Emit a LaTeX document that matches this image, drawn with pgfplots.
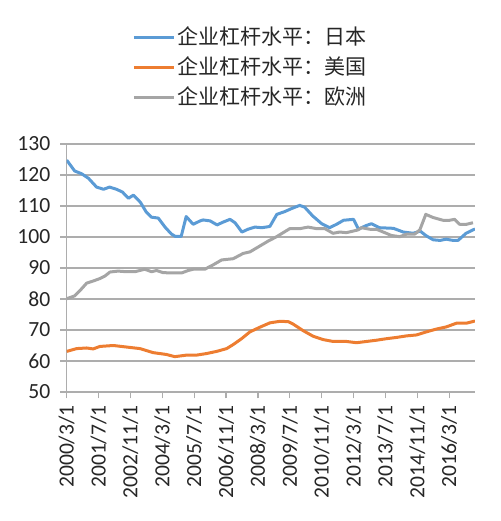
\documentclass[border=0pt]{standalone}
\usepackage{pgfplots}
\pgfplotsset{compat=1.18}
\usepackage{fontspec}
\setmainfont{Carlito}
\newfontfamily\cjk{Noto Sans CJK SC}

\definecolor{jpblue}{HTML}{5B9BD5}
\definecolor{usorange}{HTML}{ED7D31}
\definecolor{eugray}{HTML}{A5A5A5}
\definecolor{gridgray}{HTML}{ADADAD}
\definecolor{txt}{HTML}{262626}

\begin{document}
\begin{tikzpicture}
\begin{axis}[
  name=ax,
  scale only axis,
  width=204.15pt, height=124pt,
  xmin=0, xmax=205, ymin=50, ymax=130,
  ytick={50,60,...,130},
  xtick={0,16,...,192},
  xticklabels={2000/3/1,2001/7/1,2002/11/1,2004/3/1,2005/7/1,2006/11/1,2008/3/1,2009/7/1,2010/11/1,2012/3/1,2013/7/1,2014/11/1,2016/3/1},
  x tick label style={rotate=90, anchor=east},
  y tick label style={xshift=-1.5pt},
  axis x line*=bottom, axis y line*=left,
  axis line style={gridgray, line width=0.6pt},
  tick style={gridgray, line width=0.6pt},
  tick align=outside, major tick length=3.2pt,
  ymajorgrids, grid style={gridgray, line width=0.6pt},
  ticklabel style={font=\fontsize{10.8}{12}\selectfont, text=txt},
  /pgf/number format/assume math mode=true,
  legend style={draw=none, fill=none, inner sep=0pt,
    at={(0.16,1)}, anchor=south west, yshift=17pt,
    font=\fontsize{10.5}{12}\selectfont\cjk, text=txt,
    row sep=2.5pt, nodes={inner sep=1pt}},
  legend cell align=left,
  legend image code/.code={\draw[#1, line width=1.5pt] (0pt,0pt) -- (20pt,0pt);},
  every axis plot/.append style={line width=1.5pt, line join=round},
]
\addplot[jpblue] coordinates {
(0,124.8) (4,121.3) (7.5,120.4) (11,118.9) (15,116.1) (18.5,115.4) (21.5,116.1) (25,115.4)
(28,114.5) (31,112.5) (33.5,113.5) (37,111.2) (40,108) (42.5,106.4) (46,106.1) (49.5,103.1)
(52.5,101) (54.5,100.2) (57.5,100.2) (60,106.6) (63.5,104.1) (67,105.2) (68.5,105.5) (72,105.2)
(75.5,103.9) (78.5,104.8) (82,105.7) (84.5,104.6) (88,101.6) (91,102.5) (94.5,103.2) (98,103.0)
(102,103.4) (105.5,107.3) (109.5,108.2) (113,109.2) (117,110.2) (119.5,109.6) (123.5,106.8)
(128,104.3) (132,103.0) (135.5,104.1) (139,105.4) (144,105.7) (146.5,102.5) (150,103.6)
(153,104.3) (157,103.0) (164,102.8) (169,101.6) (174,101.2) (177.5,101.9) (180.5,100.4)
(184,99.1) (187.5,98.9) (190.5,99.3) (194,98.9) (196.5,98.9) (200.5,101.2) (205,102.6)
};
\addlegendentry{企业杠杆水平：日本}
\addplot[usorange] coordinates {
(0,63.1) (5,64) (10,64.2) (13.3,63.9) (16.7,64.7) (23.4,65) (30.1,64.5) (36.8,64)
(43.4,62.7) (50.1,62.1) (54.3,61.4) (60.2,61.9) (65.2,61.9) (70.2,62.4) (75.3,63.1) (80.3,64)
(83.6,65.3) (87.8,67.2) (92,69.4) (97,70.9) (102,72.3) (107,72.8) (111.2,72.7) (113.7,71.9)
(118.7,69.8) (123.7,68.0) (128.8,66.9) (133.8,66.3) (140.5,66.3) (145.5,65.9) (150.5,66.3)
(155.5,66.7) (160.6,67.2) (165.6,67.6) (170.6,68.1) (175.6,68.4) (180.6,69.4) (185.6,70.3)
(190.6,71) (195.7,72.2) (200.7,72.2) (205,72.9)
};
\addlegendentry{企业杠杆水平：美国}
\addplot[eugray] coordinates {
(0,80.1) (4,81) (6.5,82.6) (10,85.1) (13.3,85.8) (16.7,86.6) (19.2,87.4) (21.7,88.7)
(25.8,89) (30,88.8) (34.2,88.8) (39.2,89.6) (42.6,88.8) (45.1,89.2) (48.4,88.5) (53.4,88.4)
(57.7,88.4) (61,89.2) (63.5,89.6) (69.3,89.6) (73.5,91.0) (77.8,92.6) (83.6,93) (88.6,94.7)
(92,95.2) (97,97.1) (101.2,98.7) (105.4,100.1) (108.7,101.4) (112,102.7) (117.1,102.7)
(121.2,103.2) (125.4,102.7) (129.6,102.7) (133.7,101.2) (137.1,101.6) (140.4,101.4)
(143.8,101.9) (146.3,102.3) (148,103) (152.2,102.5) (155.5,102.5) (159.7,101.4) (163,100.5)
(167.2,100.1) (170.6,100.9) (174.7,100.9) (177.3,102.3) (180.3,107.3) (183.9,106.3)
(188.9,105.4) (192.3,105.4) (194.8,105.7) (197.3,104.1) (200.7,104.1) (204,104.6)
};
\addlegendentry{企业杠杆水平：欧洲}
\end{axis}
\path (ax.south west) ++(-33.35pt,-64.5pt) rectangle ++(250pt,260.5pt);
\end{tikzpicture}
\end{document}
